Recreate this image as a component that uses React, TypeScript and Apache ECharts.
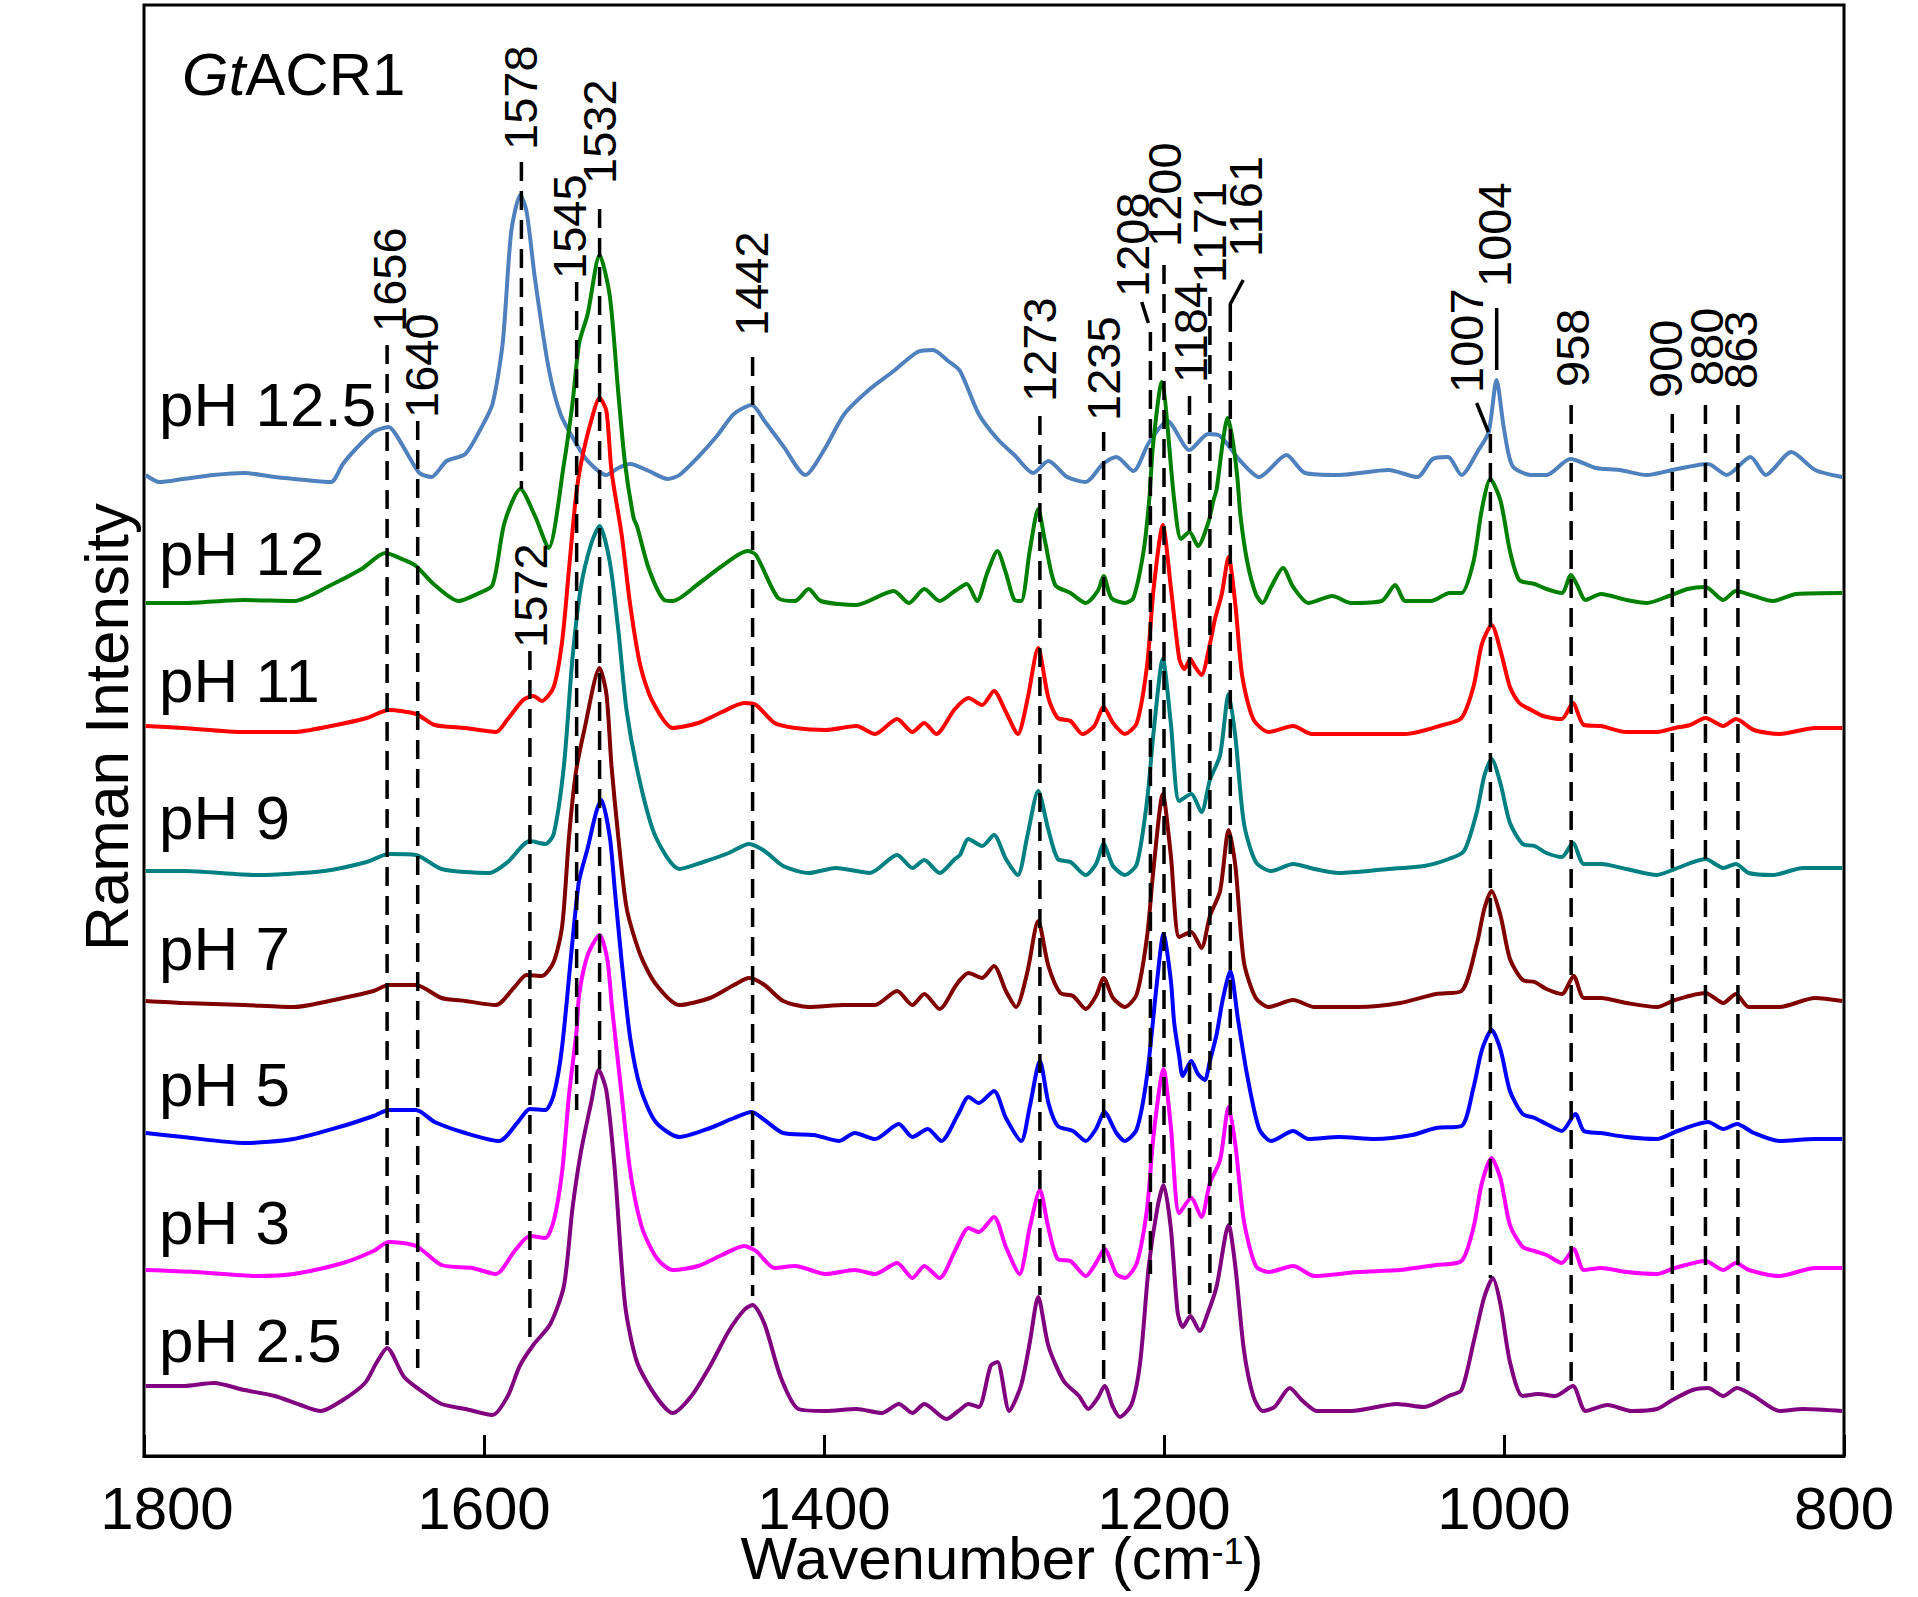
import React, { useEffect, useRef } from "react";
import * as echarts from "echarts";

const FONT = "'Liberation Sans', Arial, Helvetica, sans-serif";

// ---- data (wavenumber cm-1, stacked Raman intensity, arbitrary units) ----
const phNames = ["pH 12.5", "pH 12", "pH 11", "pH 9", "pH 7", "pH 5", "pH 3", "pH 2.5"];

const ph125: number[][] = [
  [1799, 981], [1791, 974], [1777, 977], [1759, 981], [1741, 983], [1723, 979], [1705, 976], [1690, 974],
  [1683, 992], [1676, 1006], [1665, 1024], [1656, 1029], [1652, 1022], [1645, 1002], [1638, 983], [1631, 979],
  [1622, 995], [1611, 1002], [1602, 1027], [1595, 1052], [1589, 1113], [1584, 1224], [1578.6, 1261], [1575, 1245],
  [1570, 1177], [1562, 1088], [1555, 1042], [1546, 1013], [1539, 995], [1528, 981], [1521, 988], [1514, 992],
  [1503, 985], [1492, 977], [1485, 981], [1474, 999], [1463, 1020], [1453, 1042], [1442.5, 1051], [1435, 1035],
  [1424, 1010], [1411, 981], [1400, 1006], [1388, 1042], [1373, 1067], [1359, 1085], [1345, 1104], [1336, 1106],
  [1327, 1095], [1320, 1085], [1309, 1042], [1298, 1017], [1288, 1001], [1277, 983], [1268, 995], [1257, 979],
  [1246, 974], [1236, 992], [1228, 999], [1218, 985], [1209, 1013], [1198, 1035], [1185, 1006], [1174, 1022],
  [1167, 1020], [1155, 995], [1144, 979], [1128, 1001], [1117, 983], [1097, 981], [1068, 986], [1051, 979],
  [1042, 997], [1033, 999], [1025, 981], [1015, 1006], [1009, 1024], [1004.4, 1076], [1000, 1027], [995, 990],
  [984, 981], [975, 981], [961, 997], [946, 988], [932, 986], [916, 981], [901, 986], [880, 992],
  [869, 981], [855, 999], [846, 981], [831, 1004], [817, 986], [801, 979],
];

const ph12: number[][] = [
  [1799, 853], [1777, 853], [1741, 856], [1712, 855], [1690, 871], [1672, 887], [1658, 903], [1647, 896],
  [1640, 890], [1629, 871], [1615, 855], [1604, 862], [1595, 871], [1588, 933], [1578.6, 967], [1570, 940],
  [1562, 908], [1553, 992], [1548, 1052], [1544, 1113], [1539, 1142], [1532, 1201], [1526, 1160], [1521, 1063],
  [1517, 992], [1512, 938], [1510, 930], [1503, 887], [1494, 856], [1489, 855], [1474, 872], [1460, 890],
  [1445, 905], [1440, 901], [1427, 858], [1417, 855], [1409, 867], [1402, 855], [1381, 851], [1359, 865],
  [1350, 853], [1341, 867], [1332, 855], [1323, 865], [1316, 872], [1310, 855], [1304, 883], [1298, 905],
  [1293, 883], [1288, 856], [1284, 855], [1279, 905], [1274, 947], [1270, 915], [1264, 871], [1255, 863],
  [1246, 853], [1239, 865], [1235.5, 880], [1231, 858], [1223, 853], [1218, 858], [1212, 905], [1208.6, 958],
  [1206.5, 1010], [1201.4, 1074], [1194, 956], [1190, 917], [1185, 924], [1180, 910], [1174, 933], [1171, 955],
  [1169, 967], [1165.5, 1013], [1162.6, 1038], [1160, 1020], [1157, 981], [1155, 940], [1151, 894], [1146, 862],
  [1142, 853], [1137, 869], [1130, 888], [1124, 869], [1115, 853], [1101, 860], [1090, 853], [1072, 855],
  [1064, 871], [1058, 855], [1043, 855], [1032, 863], [1025, 863], [1018, 894], [1013, 947], [1008, 977],
  [1002, 955], [996.5, 905], [991, 876], [982, 872], [975, 867], [966, 863], [960.6, 881], [957, 871],
  [952, 856], [943, 862], [928, 856], [916, 853], [903, 860], [892, 867], [881.5, 869], [871, 856],
  [863.6, 865], [853, 860], [842, 855], [828, 862], [801, 863],
];

const ph11: number[][] = [
  [1799, 730], [1777, 728], [1741, 724], [1712, 724], [1690, 730], [1669, 738], [1656, 746], [1640, 742],
  [1629, 731], [1611, 728], [1593, 724], [1586, 737], [1577, 756], [1571, 760], [1566, 755], [1559, 769],
  [1554, 815], [1550, 887], [1546, 958], [1543, 992], [1537, 1035], [1532, 1058], [1528, 1045], [1525, 985],
  [1519, 921], [1514, 851], [1508, 790], [1501, 755], [1489, 728], [1474, 733], [1460, 744], [1447, 753],
  [1440, 751], [1429, 733], [1417, 728], [1399, 726], [1381, 730], [1370, 722], [1357, 737], [1348, 724],
  [1341, 733], [1334, 722], [1323, 747], [1315, 758], [1307, 751], [1300, 765], [1293, 744], [1286, 722],
  [1280.5, 755], [1274, 808], [1268, 758], [1262.5, 738], [1255, 735], [1248, 722], [1241, 730], [1235.5, 749],
  [1230, 733], [1223, 722], [1216, 733], [1210, 790], [1206, 869], [1200.7, 931], [1196, 869], [1191, 797],
  [1188, 787], [1184.5, 797], [1182, 790], [1178, 781], [1173, 812], [1170, 837], [1166, 862], [1162, 899],
  [1158, 851], [1154, 780], [1147.5, 737], [1138.5, 724], [1124, 730], [1113, 722], [1086, 722], [1058, 722],
  [1036, 731], [1025, 738], [1018, 769], [1013, 812], [1007.3, 831], [1002, 805], [996.5, 769], [991, 753],
  [984, 746], [977, 740], [966, 737], [959.5, 753], [953, 731], [943, 730], [928, 724], [910, 724],
  [899.5, 728], [890.5, 731], [881.5, 738], [871, 730], [863.6, 737], [853, 726], [838, 722], [817, 728], [801, 728],
];

const ph9: number[][] = [
  [1799, 585], [1777, 585], [1733, 581], [1694, 585], [1669, 594], [1656, 602], [1640, 601], [1625, 587],
  [1597, 583], [1586, 594], [1573, 615], [1564, 612], [1559, 622], [1553, 690], [1548, 797], [1543, 869],
  [1537, 912], [1532, 930], [1526, 894], [1521, 826], [1516, 744], [1508, 672], [1499, 619], [1485, 587],
  [1471, 594], [1456, 603], [1444, 612], [1435, 605], [1424, 590], [1409, 583], [1393, 588], [1373, 583],
  [1357, 601], [1348, 588], [1341, 596], [1332, 583], [1323, 597], [1320, 601], [1315, 617], [1307, 610],
  [1300, 621], [1293, 597], [1286, 581], [1280.5, 619], [1274, 665], [1268, 626], [1262.5, 597], [1255, 594],
  [1246, 581], [1240, 592], [1235.5, 612], [1230, 590], [1223, 581], [1216, 592], [1210, 655], [1206, 726],
  [1200.7, 797], [1196, 733], [1191, 655], [1184, 662], [1178, 644], [1173, 676], [1167, 701], [1162, 762],
  [1158, 719], [1153, 633], [1146, 594], [1137, 585], [1124, 592], [1111.5, 587], [1097, 583], [1068, 587],
  [1047, 590], [1032.5, 597], [1023.5, 605], [1016, 644], [1011.6, 680], [1007.3, 697], [1002, 672], [996.5, 633],
  [989, 612], [982, 610], [975, 603], [966, 599], [959.5, 613], [953, 592], [943, 592], [928, 587],
  [910, 581], [899.5, 587], [881.5, 597], [871, 588], [863.6, 592], [856, 583], [842, 581], [824, 588], [801, 588],
];

const ph7: number[][] = [
  [1799, 455], [1777, 453], [1741, 451], [1712, 449], [1683, 458], [1665, 465], [1656, 471], [1640, 471],
  [1625, 458], [1611, 455], [1593, 451], [1582, 469], [1575, 481], [1566, 480], [1559, 494], [1554, 530],
  [1550, 619], [1546, 683], [1541, 726], [1532, 788], [1528, 762], [1525, 690], [1521, 619], [1516, 547],
  [1508, 501], [1499, 472], [1485, 451], [1467, 458], [1453, 471], [1444, 478], [1435, 471], [1424, 455],
  [1409, 449], [1388, 451], [1370, 451], [1357, 465], [1348, 451], [1341, 462], [1332, 447], [1323, 469],
  [1320, 476], [1315, 483], [1307, 478], [1300, 490], [1293, 465], [1287, 449], [1280.5, 483], [1274, 535],
  [1268, 490], [1261, 463], [1253.5, 460], [1246, 447], [1240, 460], [1235.5, 478], [1230, 458], [1223, 449],
  [1216, 462], [1210, 519], [1206, 590], [1200.7, 662], [1196, 601], [1191, 519], [1184, 524], [1178, 508],
  [1173, 540], [1167, 565], [1162, 626], [1158, 590], [1153, 494], [1146, 458], [1138.5, 449], [1124, 456],
  [1111.5, 449], [1086, 449], [1061, 453], [1040, 462], [1025, 465], [1016, 512], [1011.6, 547], [1007.3, 565],
  [1002, 540], [996.5, 497], [989, 476], [982, 474], [975, 467], [966, 462], [959, 480], [953, 458],
  [943, 458], [928, 453], [910, 449], [899.5, 456], [881.5, 463], [871, 453], [863.6, 462], [856, 449],
  [838, 449], [817, 458], [801, 455],
];

const ph5: number[][] = [
  [1799, 323], [1777, 319], [1741, 313], [1712, 317], [1683, 330], [1665, 340], [1656, 346], [1640, 346],
  [1629, 334], [1611, 323], [1591, 315], [1580, 334], [1573, 347], [1564, 346], [1559, 361], [1554, 410],
  [1544.4, 572], [1539, 608], [1534, 644], [1531, 656], [1526, 619], [1523, 565], [1519, 494], [1514, 418],
  [1508, 368], [1499, 334], [1485, 319], [1467, 328], [1453, 338], [1442.5, 344], [1435, 336], [1424, 323],
  [1406, 321], [1391, 315], [1382, 323], [1370, 317], [1356, 332], [1348, 319], [1339, 327], [1331, 315],
  [1321, 342], [1315, 359], [1309, 353], [1300, 365], [1293, 338], [1284, 315], [1279, 349], [1273, 395],
  [1268, 353], [1262.5, 330], [1253.5, 325], [1246, 315], [1240, 327], [1235, 344], [1228, 323], [1223, 315],
  [1216, 327], [1210, 380], [1204, 476], [1200.3, 522], [1196, 476], [1194, 433], [1191, 399], [1189, 380],
  [1184, 395], [1180, 382], [1176, 376], [1173, 395], [1169, 422], [1165.5, 456], [1161, 485], [1156.5, 437],
  [1151, 380], [1144, 327], [1137, 315], [1124, 325], [1115, 317], [1097, 319], [1076, 317], [1054, 321],
  [1040, 328], [1025, 330], [1018, 368], [1013, 406], [1007.3, 426], [1002, 406], [996.5, 365], [989, 342],
  [982, 338], [975, 332], [966, 325], [958, 342], [953, 325], [943, 323], [928, 319], [910, 317],
  [898, 325], [880, 334], [871, 327], [863, 332], [853, 323], [838, 315], [817, 317], [801, 317],
];

const ph3: number[][] = [
  [1799, 186], [1770, 184], [1734, 180], [1712, 182], [1683, 193], [1665, 205], [1656, 214], [1640, 210],
  [1625, 191], [1607, 188], [1593, 182], [1582, 205], [1573, 220], [1564, 218], [1559, 235], [1554, 285],
  [1550, 361], [1545.5, 426], [1544, 462], [1539, 501], [1532, 521], [1527.5, 497], [1524.6, 447], [1519, 361],
  [1514, 285], [1507, 228], [1498, 197], [1489, 186], [1474, 190], [1460, 201], [1447, 210], [1440, 205],
  [1429, 188], [1417, 190], [1399, 182], [1382, 186], [1370, 182], [1357, 193], [1348, 178], [1341, 190],
  [1332, 178], [1323, 205], [1315, 228], [1309, 224], [1300, 239], [1293, 209], [1285, 182], [1279, 228],
  [1273, 266], [1268, 228], [1262.5, 197], [1255, 195], [1246, 180], [1240, 193], [1235, 207], [1228, 182],
  [1223, 178], [1216, 193], [1210, 247], [1206, 323], [1200.3, 387], [1196, 330], [1191, 243], [1184, 258],
  [1178, 239], [1173, 273], [1167, 296], [1162, 349], [1158, 311], [1153, 235], [1146, 190], [1138.5, 184],
  [1124, 190], [1111.5, 180], [1086, 184], [1061, 186], [1040, 191], [1025, 195], [1018, 228], [1013, 273],
  [1007.3, 298], [1002, 277], [996.5, 231], [989, 209], [982, 205], [975, 201], [966, 193], [959, 207],
  [953, 186], [943, 188], [928, 184], [910, 182], [899.5, 188], [881.5, 195], [871, 186], [863.6, 193],
  [856, 186], [838, 180], [817, 188], [801, 188],
];

const ph25: number[][] = [
  [1799, 70], [1777, 70], [1759, 73], [1741, 66], [1723, 60], [1708, 51], [1696, 45], [1683, 56],
  [1670, 73], [1663, 94], [1657, 108], [1647, 79], [1636, 64], [1625, 52], [1611, 47], [1595, 41],
  [1586, 60], [1579, 90], [1571, 111], [1561, 132], [1553, 170], [1548, 247], [1543, 304], [1537, 353],
  [1532.5, 386], [1528, 365], [1523, 285], [1517, 151], [1510, 94], [1499, 60], [1489, 43], [1478, 60],
  [1467, 90], [1456, 125], [1447, 146], [1442, 151], [1435, 132], [1425.5, 79], [1415, 47], [1399, 45],
  [1381, 47], [1366, 43], [1356, 52], [1348, 43], [1341, 52], [1328, 37], [1321, 45], [1315, 52],
  [1309, 49], [1302, 90], [1298, 94], [1291, 45], [1284, 71], [1279, 113], [1274, 159], [1268, 110],
  [1259, 75], [1250, 60], [1244.5, 47], [1239, 58], [1235, 70], [1230, 49], [1226, 39], [1219, 52],
  [1214, 94], [1209, 189], [1204, 247], [1200.3, 271], [1196, 228], [1192, 144], [1189, 129], [1184.5, 140],
  [1179, 125], [1174, 144], [1169, 170], [1162, 231], [1158, 189], [1153, 106], [1147.5, 60], [1142, 45],
  [1135, 49], [1126, 68], [1119, 56], [1110, 45], [1090, 45], [1063, 52], [1047, 49], [1032.5, 60],
  [1025, 66], [1018, 113], [1011.6, 159], [1006.6, 178], [1002, 151], [996.5, 94], [989, 60], [980, 62],
  [970, 60], [959.5, 70], [952, 45], [939, 51], [925, 45], [910, 47], [901, 56], [889, 66],
  [880, 68], [871, 60], [863, 68], [853, 60], [838, 45], [824, 47], [801, 45],
];

const spectra = [ph125, ph12, ph11, ph9, ph7, ph5, ph3, ph25];

// band marker lines: position, top and bottom intensity
const bandPos = [1657, 1639, 1578, 1573, 1545.5, 1532, 1442, 1273, 1235.5, 1208, 1200, 1185, 1173, 1161, 1008, 960.5, 901, 881.5, 862.4];
const bandTop = [1111, 1035, 1294, 805, 1174, 1247, 1099, 1040, 1024, 1124, 1191, 1060, 1159, 1143, 1022, 1051, 1042, 1051, 1051];
const bandBottom = [111, 85, 967, 119, 346, 386, 160, 161, 70, 182, 269, 140, 163, 231, 178, 66, 64, 70, 70];

// band labels: text, anchor wavenumber, anchor intensity
const labelTexts = ["1656", "1640", "1578", "1572", "1545", "1532", "1442", "1273", "1235", "1208", "1200", "1184", "1171", "1161", "1007", "1004", "958", "900", "880", "863"];
const labelWn = [1655.3, 1637, 1578.8, 1572.4, 1550, 1531.8, 1442.4, 1273.5, 1235.5, 1218.6, 1200, 1184.7, 1173.5, 1151.9, 1021.9, 1005.3, 960, 904.9, 880.8, 860.6];
const labelH = [1124, 1038, 1306, 808, 1177, 1272, 1120, 1054, 1035, 1159, 1209, 1073, 1173, 1199, 1063, 1169, 1069, 1058, 1070, 1067];

// leader strokes from labels to bands
const leaders: number[][][] = [
  [[1213.1, 1154], [1209.2, 1133]],
  [[1153.4, 1176], [1161, 1152], [1161, 1143]],
  [[1016.1, 1053], [1009.2, 1024]],
  [[1004.3, 1148], [1004.3, 1086]],
];

const xTicks = { min: 800, max: 1800, interval: 200 };
const xTitle = "Wavenumber (cm{s|-1})";

// ---- styles ----
const lineColors = ["#4F81BD", "#008000", "#FF0000", "#008080", "#800000", "#0000FF", "#FF00FF", "#800080"];
const phLabelY = [404.5, 553, 680, 817.5, 948.5, 1084, 1222, 1340];

export default function App() {
  const ref = useRef<HTMLDivElement>(null);
  useEffect(() => {
    const chart = echarts.init(ref.current as HTMLDivElement, null, { renderer: "svg" });
    const series: any[] = [];
    spectra.forEach((d, i) => {
      series.push({
        type: "line",
        name: phNames[i],
        data: d,
        symbol: "none",
        showSymbol: false,
        smooth: 0.25,
        lineStyle: { color: lineColors[i], width: 4 },
        z: 2,
        silent: true,
      });
    });
    bandPos.forEach((p, i) => {
      series.push({
        type: "line",
        data: [[p, bandTop[i]], [p, bandBottom[i]]],
        symbol: "none",
        lineStyle: { color: "#000", width: 3.5, type: [19, 10] },
        z: 3,
        silent: true,
      });
    });
    leaders.forEach((l) => {
      series.push({
        type: "line",
        data: l,
        symbol: "none",
        lineStyle: { color: "#000", width: 3.5 },
        z: 3,
        silent: true,
      });
    });
    series.push({
      type: "scatter",
      data: labelTexts.map((t, i) => ({ value: [labelWn[i], labelH[i]], name: t })),
      symbolSize: 0,
      itemStyle: { opacity: 1 },
      z: 4,
      silent: true,
      label: {
        show: true,
        position: "inside",
        rotate: 90,
        align: "left",
        verticalAlign: "middle",
        formatter: (p: any) => p.name,
        fontSize: 47,
        fontFamily: FONT,
        color: "#000",
        opacity: 1,
      },
    });

    chart.setOption({
      animation: false,
      backgroundColor: "#fff",
      grid: {
        left: 144, right: 74, top: 5, bottom: 141,
        containLabel: false, outerBoundsMode: "none",
        show: true, borderColor: "#000", borderWidth: 3, backgroundColor: "transparent",
      },
      xAxis: {
        type: "value",
        min: xTicks.min,
        max: xTicks.max,
        interval: xTicks.interval,
        inverse: true,
        axisLine: { show: true, lineStyle: { color: "#000", width: 3 } },
        axisTick: { show: true, inside: true, length: 21, lineStyle: { color: "#000", width: 3 } },
        splitLine: { show: false },
        axisLabel: {
          fontSize: 60,
          lineHeight: 44,
          fontFamily: FONT,
          color: "#000",
          margin: 30,
          formatter: (v: number) => (v === xTicks.max ? `{f|${v}}` : String(v)),
          rich: { f: { fontSize: 60, lineHeight: 44, fontFamily: FONT, color: "#000", padding: [0, 0, 0, 46] } },
        },
      },
      yAxis: {
        type: "value",
        min: 0,
        max: 1451,
        axisLine: { show: false },
        axisTick: { show: false },
        axisLabel: { show: false },
        splitLine: { show: false },
      },
      graphic: [
        ...phNames.map((n, i) => ({
          type: "text",
          x: 159,
          y: phLabelY[i],
          silent: true,
          style: { text: n, fontSize: 62, fontFamily: FONT, fill: "#000", align: "left", verticalAlign: "middle" },
        })),
        {
          type: "text",
          x: 182,
          y: 74,
          silent: true,
          style: {
            text: "{i|Gt}{n|ACR1}",
            fontSize: 60,
            fontFamily: FONT,
            fill: "#000",
            align: "left",
            verticalAlign: "middle",
            rich: {
              i: { fontSize: 60, fontFamily: FONT, fontStyle: "italic", fill: "#000" },
              n: { fontSize: 60, fontFamily: FONT, fill: "#000" },
            },
          },
        },
        {
          type: "text",
          x: 1002,
          y: 1558,
          silent: true,
          style: {
            text: xTitle,
            fontSize: 60,
            lineHeight: 50,
            fontFamily: FONT,
            fill: "#000",
            align: "center",
            verticalAlign: "middle",
            rich: {
              s: { fontSize: 36, fontFamily: FONT, fill: "#000", verticalAlign: "top", lineHeight: 36 },
            },
          },
        },
        {
          type: "text",
          x: 106,
          y: 727,
          rotation: Math.PI / 2,
          silent: true,
          style: { text: "Raman Intensity", fontSize: 62, fontFamily: FONT, fill: "#000", align: "center", verticalAlign: "middle" },
        },
      ],
      series,
    });
    return () => chart.dispose();
  }, []);
  return <div ref={ref} style={{ position: "fixed", left: 0, top: 0, width: 1918, height: 1597, background: "#fff" }} />;
}
